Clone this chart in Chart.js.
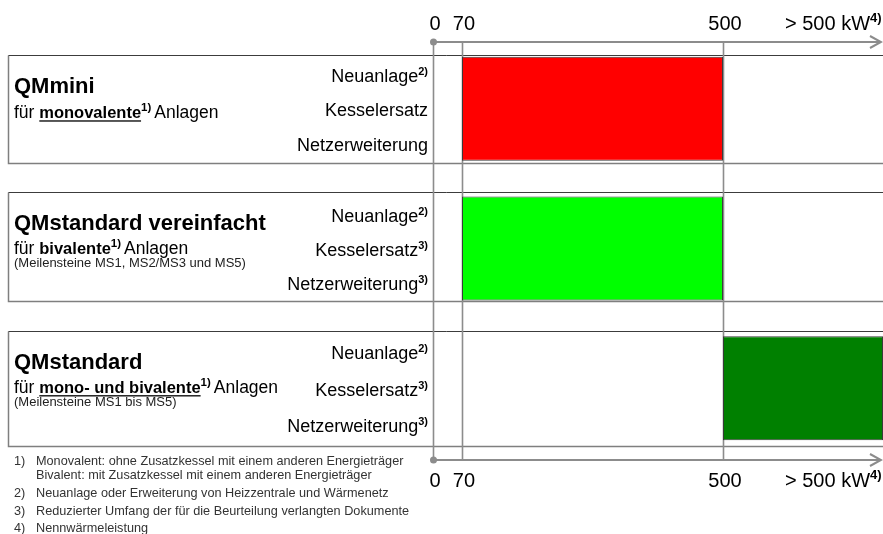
<!DOCTYPE html>
<html>
<head>
<meta charset="utf-8">
<script src="https://cdn.jsdelivr.net/npm/chart.js@4/dist/chart.umd.min.js"></script>
<style>
  html, body { margin: 0; padding: 0; background: #fff; overflow: hidden; }
  #wrap { width: 883px; height: 534px; }
</style>
</head>
<body>
<div id="wrap"><canvas id="chart" width="883" height="534"></canvas></div>
<script>
// Values
const groups = ['QMmini', 'QMstandard vereinfacht', 'QMstandard'];
const rangeStart = [70, 70, 500];
const rangeEnd = [500, 500, 1000];
const barColors = ['#ff0000', '#00ff00', '#008000'];

const tickValues = [0, 70, 500];
const tickLabels = ['0', '70', '500'];
const openEndLabel = '> 500 kW';
const openEndNote = '4)';

const rowLabels = ['Neuanlage', 'Kesselersatz', 'Netzerweiterung'];
const rowNotes = [['2)', '', ''], ['2)', '3)', '3)'], ['2)', '3)', '3)']];

const subtitleKey = ['monovalente', 'bivalente', 'mono- und bivalente'];
const subtitleUnderline = [true, false, true];
const milestones = ['', '(Meilensteine MS1, MS2/MS3 und MS5)', '(Meilensteine MS1 bis MS5)'];

const footnoteNums = ['1)', '', '2)', '3)', '4)'];
const footnoteTexts = [
    'Monovalent: ohne Zusatzkessel mit einem anderen Energieträger',
    'Bivalent: mit Zusatzkessel mit einem anderen Energieträger',
    'Neuanlage oder Erweiterung von Heizzentrale und Wärmenetz',
    'Reduzierter Umfang der für die Beurteilung verlangten Dokumente',
    'Nennwärmeleistung'
];

const FONT = "'Liberation Sans', Arial, sans-serif";
const GRAY = '#8c8c8c';

// Piecewise linear axis: 0-70 narrow, 70-500 wide, >500 open end
const breakValues = [0, 70, 500, 1000];
const breakFractions = [0, 0.0644, 0.6444, 1];

class PiecewiseScale extends Chart.LinearScale {
    getPixelForValue(value) {
        const last = breakValues.length - 1;
        const v = Math.max(breakValues[0], Math.min(value, breakValues[last]));
        for (let i = 1; i <= last; i++) {
            if (v <= breakValues[i]) {
                const t = (v - breakValues[i - 1]) / (breakValues[i] - breakValues[i - 1]);
                return this.getPixelForDecimal(breakFractions[i - 1] + t * (breakFractions[i] - breakFractions[i - 1]));
            }
        }
        return this.getPixelForDecimal(1);
    }
    getValueForPixel(pixel) {
        const d = this.getDecimalForPixel(pixel);
        for (let i = 1; i < breakFractions.length; i++) {
            if (d <= breakFractions[i]) {
                const t = (d - breakFractions[i - 1]) / (breakFractions[i] - breakFractions[i - 1]);
                return breakValues[i - 1] + t * (breakValues[i] - breakValues[i - 1]);
            }
        }
        return breakValues[breakValues.length - 1];
    }
}
PiecewiseScale.id = 'piecewise';
PiecewiseScale.defaults = Chart.LinearScale.defaults;
Chart.register(PiecewiseScale);

// Draw a run of text segments (font changes, superscripts, underline)
function segsWidth(ctx, segs) {
    return segs.reduce((w, s) => { ctx.font = s.font; return w + ctx.measureText(s.text).width + (s.gap || 0); }, 0);
}
function drawSegs(ctx, segs, x, y, align) {
    let cx = align === 'right' ? x - segsWidth(ctx, segs) : x;
    segs.forEach(s => {
        ctx.font = s.font;
        ctx.fillStyle = s.color || '#000';
        ctx.textAlign = 'left';
        ctx.textBaseline = 'alphabetic';
        cx += s.gap || 0;
        ctx.fillText(s.text, cx, y + (s.dy || 0));
        const w = ctx.measureText(s.text).width;
        if (s.underline) ctx.fillRect(cx, y + 2, w, 1.3);
        cx += w;
    });
}

// box edges relative to each band centre (the last box is a bit taller)
const boxTopOffset = [-54, -56.5, -57];
const boxBottomOffset = [54, 52.5, 58];

const framePlugin = {
    id: 'framePlugin',
    beforeDatasetsDraw(chart) {
        const { ctx, chartArea, scales } = chart;
        const topAxis = chartArea.top + 3;
        const bottomAxis = chartArea.bottom + 2;
        ctx.save();

        // group boxes
        groups.forEach((g, i) => {
            const c = scales.y.getPixelForValue(i);
            const y0 = Math.round(c + boxTopOffset[i]) + 0.5;
            const y1 = Math.round(c + boxBottomOffset[i]) + 0.5;
            ctx.strokeStyle = '#7f7f7f';
            ctx.lineWidth = 1.5;
            ctx.beginPath();
            ctx.moveTo(chart.width + 5, y1);
            ctx.lineTo(8.5, y1);
            ctx.lineTo(8.5, y0);
            ctx.stroke();
            ctx.strokeStyle = '#3c3c3c';
            ctx.lineWidth = 1;
            ctx.beginPath();
            ctx.moveTo(8.5, y0);
            ctx.lineTo(chart.width + 5, y0);
            ctx.stroke();
        });

        // vertical guide lines
        ctx.strokeStyle = GRAY;
        ctx.lineWidth = 1.6;
        tickValues.forEach(v => {
            const x = Math.round(scales.x.getPixelForValue(v)) + 0.5;
            ctx.beginPath();
            ctx.moveTo(x, topAxis);
            ctx.lineTo(x, bottomAxis);
            ctx.stroke();
        });

        // top and bottom axes with dot and arrow
        [topAxis, bottomAxis].forEach(y => {
            const x0 = scales.x.getPixelForValue(breakValues[0]) + 0.5;
            const x1 = chartArea.right - 2;
            ctx.strokeStyle = GRAY;
            ctx.lineWidth = 2;
            ctx.beginPath();
            ctx.moveTo(x0, y);
            ctx.lineTo(x1, y);
            ctx.moveTo(x1 - 11, y - 6);
            ctx.lineTo(x1, y);
            ctx.lineTo(x1 - 11, y + 6);
            ctx.stroke();
            ctx.fillStyle = GRAY;
            ctx.beginPath();
            ctx.arc(x0, y, 3.5, 0, Math.PI * 2);
            ctx.fill();
        });
        ctx.restore();
    },
    afterDraw(chart) {
        const { ctx, chartArea, scales } = chart;
        const band = (chartArea.bottom - chartArea.top) / groups.length;
        const topAxis = chartArea.top + 3;
        const bottomAxis = chartArea.bottom + 2;
        ctx.save();

        // axis labels, top and bottom
        const numFont = '20px ' + FONT;
        [topAxis - 12, bottomAxis + 27].forEach(base => {
            ctx.font = numFont;
            ctx.fillStyle = '#000';
            ctx.textAlign = 'center';
            ctx.textBaseline = 'alphabetic';
            tickValues.forEach((v, i) => {
                ctx.fillText(tickLabels[i], scales.x.getPixelForValue(v) + 2, base);
            });
            drawSegs(ctx, [
                { text: openEndLabel, font: numFont },
                { text: openEndNote, font: 'bold 13px ' + FONT, dy: -8 }
            ], scales.x.getPixelForValue(breakValues[2]) + 62, base, 'left');
        });

        const labelX = scales.x.getPixelForValue(breakValues[0]) - 5;
        groups.forEach((g, i) => {
            const c = scales.y.getPixelForValue(i);
            const spacing = band * (i === 2 ? 0.262 : 0.247);

            // row labels on the right of each box
            rowLabels.forEach((r, k) => {
                const base = c + 7.5 + (k - 1) * spacing;
                drawSegs(ctx, [
                    { text: r, font: '18px ' + FONT },
                    { text: rowNotes[i][k], font: 'bold 11px ' + FONT, dy: -7 }
                ], labelX, base, 'right');
            });

            // title block on the left
            const offs = milestones[i] ? [-19, 5, 18] : [-15.5, 9.5];
            drawSegs(ctx, [{ text: g, font: 'bold 22px ' + FONT }], 14, c + offs[0], 'left');
            drawSegs(ctx, [
                { text: 'für ', font: '17.5px ' + FONT },
                { text: subtitleKey[i], font: 'bold 16.5px ' + FONT, underline: subtitleUnderline[i] },
                { text: '1)', font: 'bold 11.5px ' + FONT, dy: -7 },
                { text: 'Anlagen', font: '17.5px ' + FONT, gap: 3 }
            ], 14, c + offs[1], 'left');
            if (milestones[i]) {
                drawSegs(ctx, [{ text: milestones[i], font: '13px ' + FONT, color: '#222' }], 14, c + offs[2], 'left');
            }
        });

        // footnotes
        const noteBase = [465, 479, 496.5, 514.5, 532];
        footnoteTexts.forEach((t, i) => {
            ctx.font = '12.7px ' + FONT;
            ctx.fillStyle = '#333';
            ctx.textAlign = 'left';
            ctx.textBaseline = 'alphabetic';
            if (footnoteNums[i]) ctx.fillText(footnoteNums[i], 14, noteBase[i]);
            ctx.fillText(t, 36, noteBase[i]);
        });
        ctx.restore();
    }
};

new Chart(document.getElementById('chart'), {
    type: 'bar',
    data: {
        labels: groups,
        datasets: [{
            data: rangeStart.map((s, i) => [s, rangeEnd[i]]),
            backgroundColor: barColors,
            borderColor: '#3a3a3a',
            borderWidth: 1,
            borderSkipped: false,
            barPercentage: 0.745,
            categoryPercentage: 1
        }]
    },
    options: {
        indexAxis: 'y',
        responsive: false,
        devicePixelRatio: 1,
        animation: false,
        events: [],
        layout: { padding: { left: 433, right: 0, top: 39, bottom: 76 } },
        plugins: { legend: { display: false }, tooltip: { enabled: false } },
        scales: {
            x: { type: 'piecewise', min: 0, max: 1000, display: false },
            y: { type: 'category', display: false, offset: true }
        }
    },
    plugins: [framePlugin]
});
</script>
</body>
</html>
